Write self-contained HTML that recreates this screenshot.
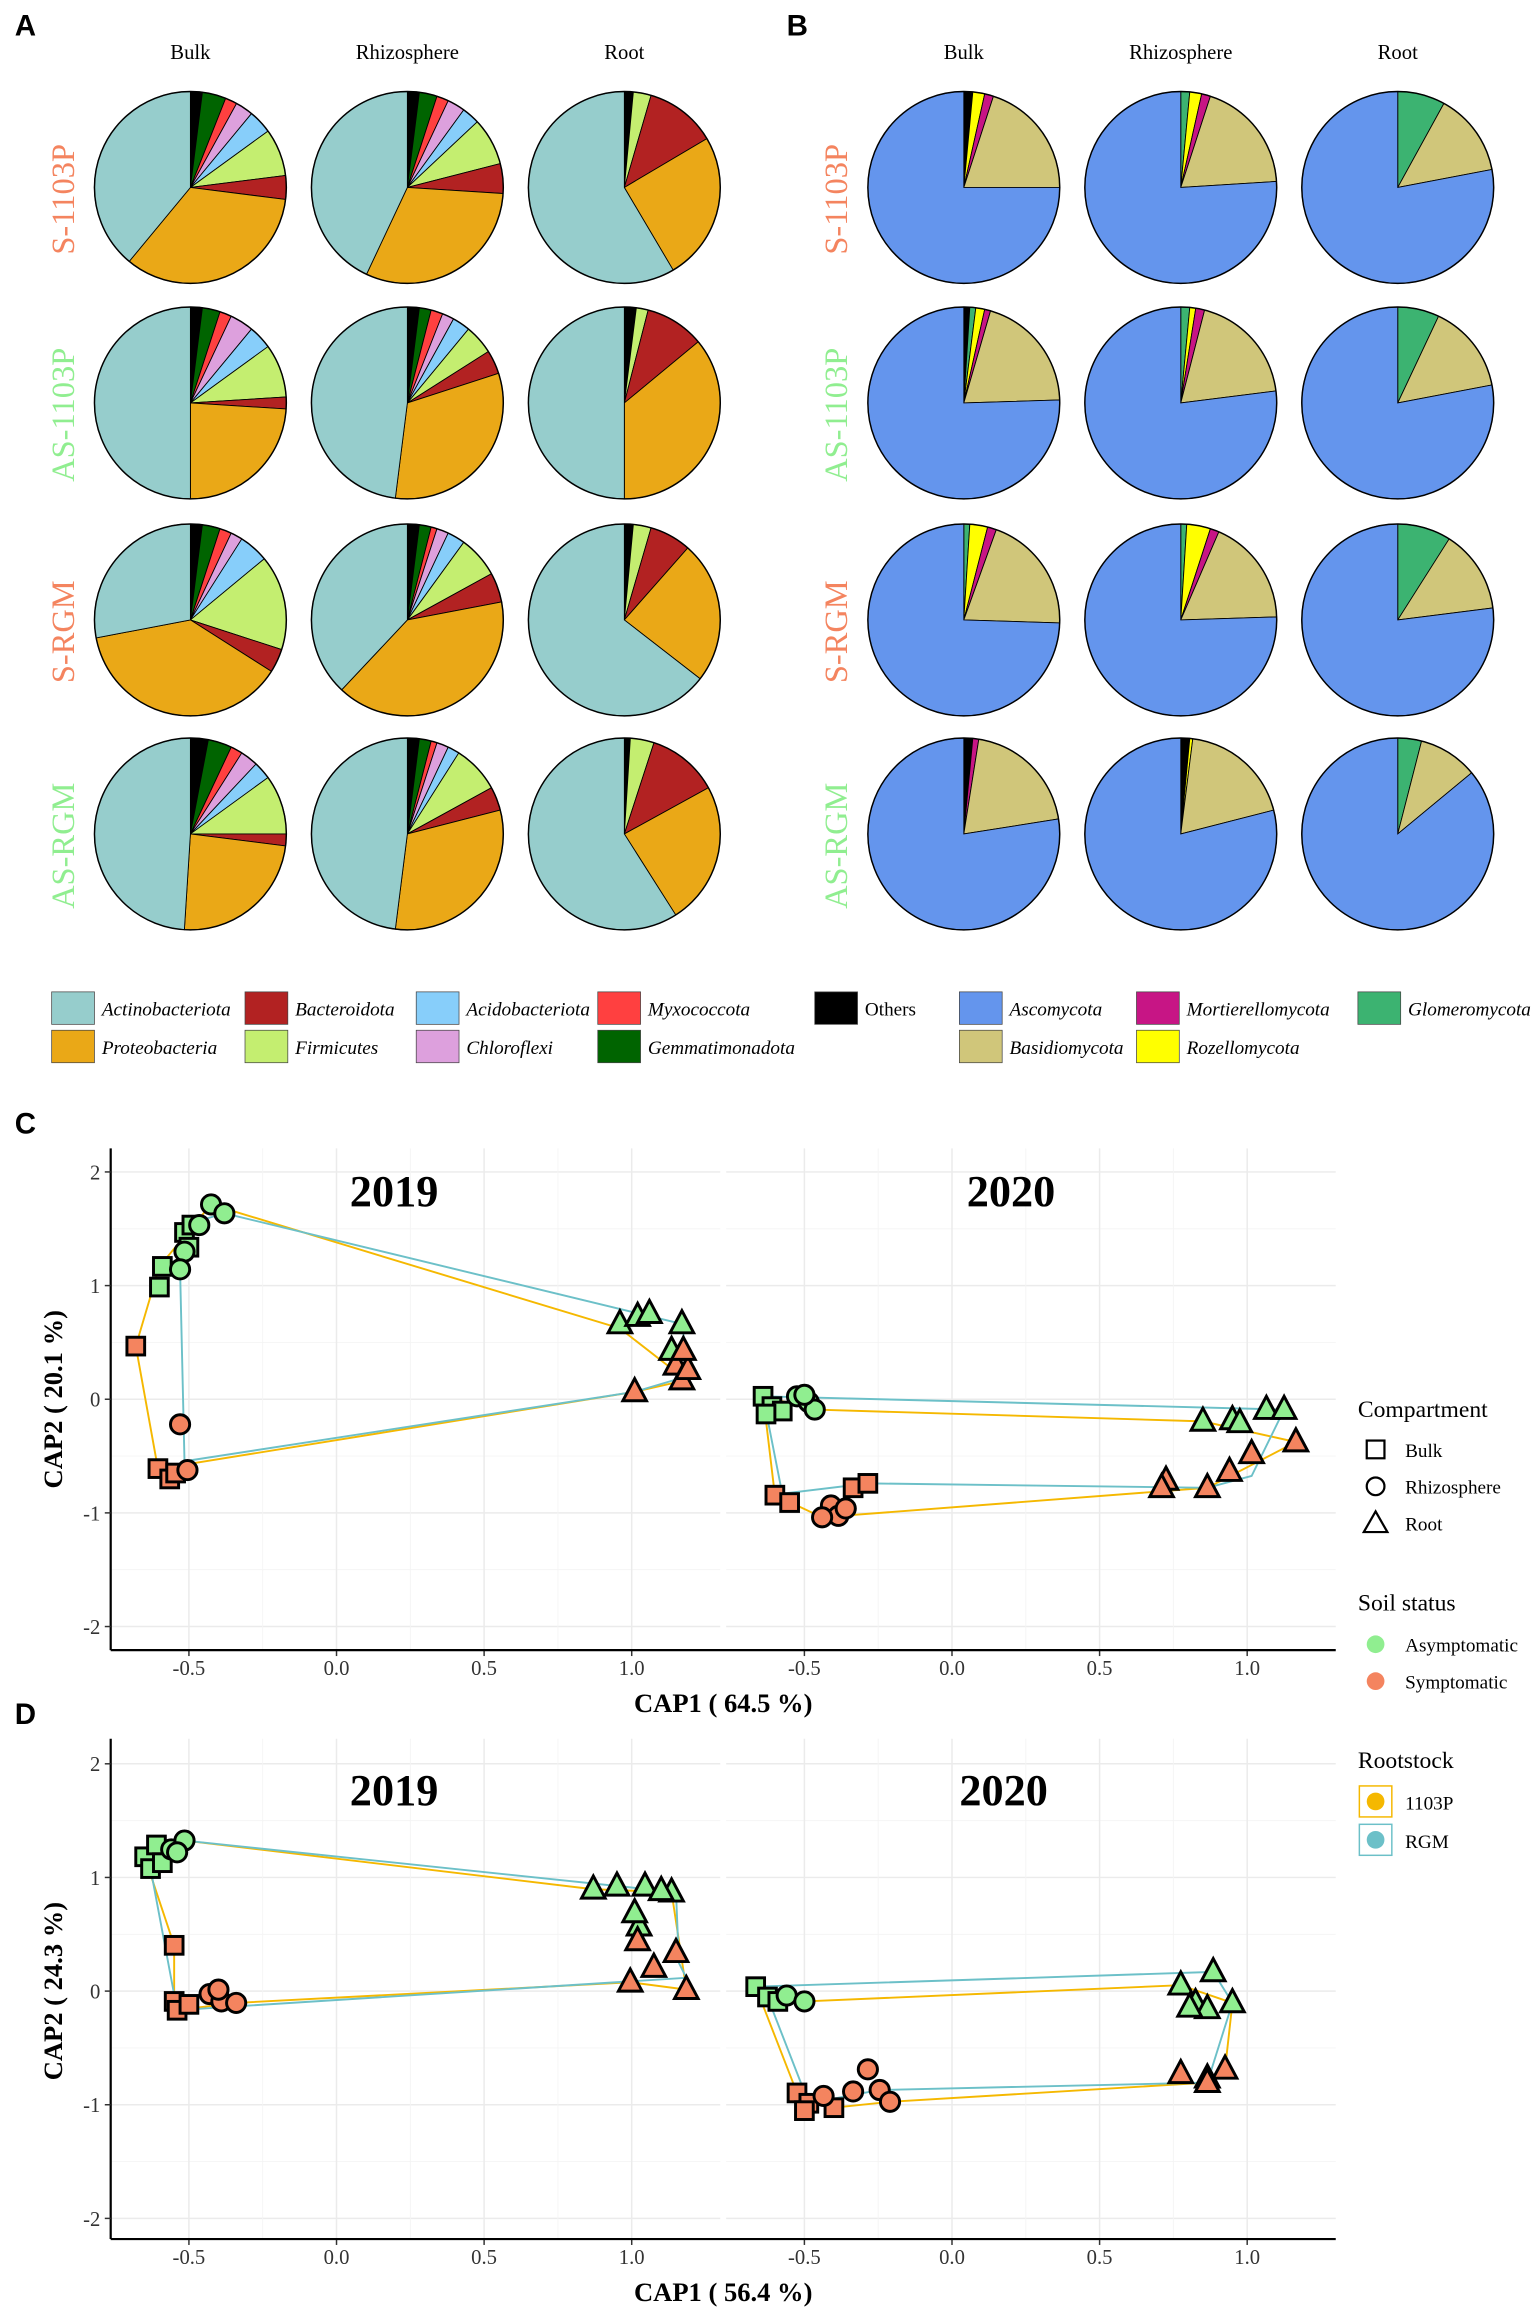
<!DOCTYPE html>
<html><head><meta charset="utf-8">
<style>
html,body{margin:0;padding:0;background:#fff;}
svg{display:block;}
text{font-family:"Liberation Serif",serif;}
</style></head>
<body>
<svg id="s" width="1535" height="2321" viewBox="0 0 1040 1572.5" xmlns="http://www.w3.org/2000/svg">
<rect width="1040" height="1573" fill="#fff"/>
<g id="g"></g>
</svg>
<script>
const NS="http://www.w3.org/2000/svg";
const G=document.getElementById('g');
function el(t,a,txt){const e=document.createElementNS(NS,t);for(const k in a)e.setAttribute(k,a[k]);if(txt!==undefined)e.textContent=txt;G.appendChild(e);return e;}
function tx(x,y,s,o){o=o||{};const a={x:x,y:y,'font-size':o.fs||14,fill:o.fill||'#000','text-anchor':o.anc||'middle'};if(o.b)a['font-weight']='bold';if(o.i)a['font-style']='italic';if(o.tr)a.transform=o.tr;if(o.ff)a.style='font-family:'+o.ff;return el('text',a,s);}
tx(10,24,'A',{fs:20,b:1,anc:'start',ff:'"Liberation Sans",sans-serif'});
tx(533,24,'B',{fs:20,b:1,anc:'start',ff:'"Liberation Sans",sans-serif'});
tx(10,768,'C',{fs:20,b:1,anc:'start',ff:'"Liberation Sans",sans-serif'});
tx(10,1168,'D',{fs:20,b:1,anc:'start',ff:'"Liberation Sans",sans-serif'});
const bc=['#000','#006400','#ff4040','#dda0dd','#87cefa','#c4ee70','#b22222','#eaa817','#96cdcc'];
const fc=['#000','#3cb371','#ffff00','#c71585','#d0c67a','#6495ed'];
const bac=[
[[.02,.04,.02,.03,.04,.08,.04,.34],[.02,.03,.02,.03,.03,.08,.05,.31],[.015,0,0,0,0,.03,.12,.25]],
[[.02,.03,.02,.04,.04,.09,.02,.24],[.02,.02,.02,.02,.03,.05,.04,.32],[.02,0,0,0,0,.02,.1,.36]],
[[.02,.03,.02,.02,.05,.16,.04,.38],[.02,.02,.01,.02,.03,.07,.05,.40],[.015,0,0,0,0,.03,.07,.24]],
[[.03,.04,.02,.03,.03,.10,.02,.24],[.02,.02,.01,.02,.02,.08,.04,.31],[.01,0,0,0,0,.04,.12,.24]]];
const fun=[
[[.015,0,.02,.015,.2],[0,.015,.02,.015,.19],[0,.08,0,0,.14]],
[[.01,.01,.015,.01,.2],[0,.015,.01,.015,.19],[0,.07,0,0,.15]],
[[0,.01,.03,.015,.2],[0,.01,.04,.015,.18],[0,.09,0,0,.14]],
[[.015,0,0,.01,.2],[.015,0,.005,0,.19],[0,.04,0,0,.1]]];
const rowsY=[127,273,420,565], bx=[129,276,423], fx=[653,800,947], R=65;
function pie(cx,cy,fr,cols){let a=0;const all=fr.slice();let s=all.reduce((p,c)=>p+c,0);all.push(1-s);
 all.forEach((f,i)=>{if(f<=0)return;const a0=a*2*Math.PI,a1=(a+f)*2*Math.PI;a+=f;
  const x0=cx+R*Math.sin(a0),y0=cy-R*Math.cos(a0),x1=cx+R*Math.sin(a1),y1=cy-R*Math.cos(a1);
  el('path',{d:`M${cx},${cy}L${x0},${y0}A${R},${R} 0 ${f>.5?1:0} 1 ${x1},${y1}Z`,fill:cols[i],stroke:'#000','stroke-width':0.6});});
 el('circle',{cx:cx,cy:cy,r:R,fill:'none',stroke:'#000','stroke-width':1});}
for(let r=0;r<4;r++)for(let c=0;c<3;c++){pie(bx[c],rowsY[r],bac[r][c],bc);pie(fx[c],rowsY[r],fun[r][c],fc);}
['Bulk','Rhizosphere','Root'].forEach((t,i)=>{tx(bx[i],40,t,{fs:14});tx(fx[i],40,t,{fs:14});});
const rl=['S-1103P','AS-1103P','S-RGM','AS-RGM'],rc=['#f4845f','#90ee90','#f4845f','#90ee90'];
rl.forEach((t,i)=>{tx(50,rowsY[i]+8,t,{fs:22,fill:rc[i],tr:`rotate(-90 50 ${rowsY[i]+8})`});tx(574,rowsY[i]+8,t,{fs:22,fill:rc[i],tr:`rotate(-90 574 ${rowsY[i]+8})`});});
const lg=[[35,672,'#96cdcc','Actinobacteriota'],[35,698,'#eaa817','Proteobacteria'],[166,672,'#b22222','Bacteroidota'],[166,698,'#c4ee70','Firmicutes'],[282,672,'#87cefa','Acidobacteriota'],[282,698,'#dda0dd','Chloroflexi'],[405,672,'#ff4040','Myxococcota'],[405,698,'#006400','Gemmatimonadota'],[552,672,'#000','Others',1],[650,672,'#6495ed','Ascomycota'],[650,698,'#d0c67a','Basidiomycota'],[770,672,'#c71585','Mortierellomycota'],[770,698,'#ffff00','Rozellomycota'],[920,672,'#3cb371','Glomeromycota']];
lg.forEach(l=>{el('rect',{x:l[0],y:l[1],width:29,height:22,fill:l[2],stroke:'#444','stroke-width':0.5});tx(l[0]+34,l[1]+16,l[3],{fs:13,i:!l[4],anc:'start'});});
function panel(y0,yb,zeroY,xlab,ylab){
 const unit=77;
 [[75,488,228],[492,905,645]].forEach(([x0,x1,zx])=>{
  for(let v=-2;v<=2;v++){el('line',{x1:x0,x2:x1,y1:zeroY-v*unit,y2:zeroY-v*unit,stroke:'#ebebeb','stroke-width':1});}
  for(let v=-2;v<=2;v++){const yy=zeroY-(v+0.5)*unit;if(yy>y0&&yy<yb)el('line',{x1:x0,x2:x1,y1:yy,y2:yy,stroke:'#f4f4f4','stroke-width':.6});}
  [-0.5,0,0.5,1].forEach(v=>{const xx=zx+v*200;el('line',{x1:xx,x2:xx,y1:y0,y2:yb,stroke:'#ebebeb','stroke-width':1});
    tx(xx,yb+17,v==0?'0.0':(v==1?'1.0':String(v)),{fs:14,fill:'#333'});el('line',{x1:xx,x2:xx,y1:yb,y2:yb+4,stroke:'#333'});});
  [-0.25,0.25,0.75].forEach(v=>{const xx=zx+v*200;el('line',{x1:xx,x2:xx,y1:y0,y2:yb,stroke:'#f4f4f4','stroke-width':.6});});
 });
 el('line',{x1:75,x2:905,y1:yb,y2:yb,stroke:'#000','stroke-width':1.5});
 el('line',{x1:75,x2:75,y1:y0,y2:yb,stroke:'#000','stroke-width':1.5});
 for(let v=-2;v<=2;v++){tx(68,zeroY-v*unit+5,String(v),{fs:14,anc:'end',fill:'#333'});el('line',{x1:71,x2:75,y1:zeroY-v*unit,y2:zeroY-v*unit,stroke:'#333'});}
 tx(490,yb+42,xlab,{fs:18,b:1});
 tx(42,zeroY,ylab,{fs:18,b:1,tr:`rotate(-90 42 ${zeroY})`});
}
panel(778,1118,948,'CAP1 ( 64.5 %)','CAP2 ( 20.1 %)');
panel(1178,1517,1349,'CAP1 ( 56.4 %)','CAP2 ( 24.3 %)');
tx(267,817,'2019',{fs:30,b:1});tx(685,817,'2020',{fs:30,b:1});
tx(267,1223,'2019',{fs:30,b:1});tx(680,1223,'2020',{fs:30,b:1});
function hull(pts,c){el('polygon',{points:pts.map(p=>p.join(',')).join(' '),fill:'none',stroke:c,'stroke-width':1.3});}
const G1='#90ee90',O1='#f4845f';
function pt(t,x,y,c){const a={fill:c,stroke:'#000','stroke-width':2};
 if(t=='s'){a.x=x-6;a.y=y-6;a.width=12;a.height=12;el('rect',a);}
 else if(t=='c'){a.cx=x;a.cy=y;a.r=6.5;el('circle',a);}
 else {a.points=`${x},${y-9} ${x-8},${y+6} ${x+8},${y+6}`;el('polygon',a);}}
hull([[92,912],[108,858],[143,816],[420,900],[465,935],[430,943],[127,992],[107,995]],'#f5b800');
hull([[120,860],[125,830],[152,822],[462,897],[467,932],[430,943],[125,990],[122,860]],'#6cc0c8');
[['s',108,872],['s',110,858],['s',125,835],['s',130,830],['s',128,845],['c',143,816],['c',152,822],['c',135,830],['c',125,848],['c',122,860]].forEach(p=>pt(p[0],p[1],p[2],G1));
[['s',92,912],['s',107,995],['s',115,1002],['s',119,998],['c',122,965],['c',127,996]].forEach(p=>pt(p[0],p[1],p[2],O1));
[['t',420,897],['t',432,892],['t',440,890],['t',462,897],['t',455,915]].forEach(p=>pt(p[0],p[1],p[2],G1));
[['t',430,943],['t',458,925],['t',462,935],['t',466,928],['t',463,915]].forEach(p=>pt(p[0],p[1],p[2],O1));
hull([[517,946],[552,955],[815,963],[878,977],[818,1008],[557,1028],[525,1013]],'#f5b800');
hull([[517,946],[870,955],[848,1000],[818,1008],[588,1005],[530,1012]],'#6cc0c8');
[['s',517,946],['s',523,953],['s',530,956],['s',519,958],['c',540,946],['c',548,950],['c',552,955],['c',545,945]].forEach(p=>pt(p[0],p[1],p[2],G1));
[['s',525,1013],['s',535,1018],['s',578,1008],['s',588,1005],['c',563,1020],['c',568,1027],['c',557,1028],['c',573,1022]].forEach(p=>pt(p[0],p[1],p[2],O1));
[['t',815,963],['t',835,962],['t',840,964],['t',858,955],['t',870,955]].forEach(p=>pt(p[0],p[1],p[2],G1));
[['t',878,977],['t',848,985],['t',833,997],['t',790,1003],['t',818,1008],['t',787,1008]].forEach(p=>pt(p[0],p[1],p[2],O1));
hull([[98,1258],[125,1247],[402,1280],[455,1282],[465,1348],[427,1343],[160,1357],[118,1362],[118,1318]],'#f5b800');
hull([[102,1266],[110,1250],[125,1247],[458,1282],[460,1330],[465,1340],[150,1360],[120,1362]],'#6cc0c8');
[['s',98,1258],['s',102,1266],['s',106,1250],['s',110,1262],['c',116,1253],['c',125,1247],['c',120,1255]].forEach(p=>pt(p[0],p[1],p[2],G1));
[['s',118,1318],['s',118,1356],['s',120,1362],['s',128,1358],['c',142,1351],['c',150,1356],['c',160,1357],['c',148,1348]].forEach(p=>pt(p[0],p[1],p[2],O1));
[['t',402,1280],['t',418,1278],['t',437,1278],['t',455,1282],['t',448,1281],['t',433,1305],['t',430,1296]].forEach(p=>pt(p[0],p[1],p[2],G1));
[['t',432,1315],['t',427,1343],['t',443,1333],['t',458,1323],['t',465,1348]].forEach(p=>pt(p[0],p[1],p[2],O1));
hull([[512,1346],[545,1356],[800,1345],[835,1357],[830,1402],[818,1411],[603,1424],[565,1428],[540,1418]],'#f5b800');
hull([[512,1346],[822,1336],[835,1357],[818,1411],[596,1416],[548,1425],[520,1353]],'#6cc0c8');
[['s',512,1346],['s',520,1353],['s',527,1356],['c',533,1352],['c',545,1356]].forEach(p=>pt(p[0],p[1],p[2],G1));
[['t',800,1345],['t',822,1336],['t',810,1357],['t',818,1361],['t',835,1357],['t',806,1360]].forEach(p=>pt(p[0],p[1],p[2],G1));
[['t',800,1405],['t',818,1408],['t',830,1402],['t',818,1411]].forEach(p=>pt(p[0],p[1],p[2],O1));
[['s',540,1418],['s',548,1425],['s',565,1428],['s',545,1430],['c',588,1402],['c',578,1417],['c',596,1416],['c',603,1424],['c',558,1420]].forEach(p=>pt(p[0],p[1],p[2],O1));
tx(920,960,'Compartment',{fs:16,anc:'start'});
function lpt(t,x,y,c,sw){const a={fill:c,stroke:'#000','stroke-width':sw||1.5};
 if(t=='s'){a.x=x-6;a.y=y-6;a.width=12;a.height=12;el('rect',a);}else if(t=='c'){a.cx=x;a.cy=y;a.r=6;el('circle',a);}else{a.points=`${x},${y-8} ${x-8},${y+6} ${x+8},${y+6}`;el('polygon',a);}}
lpt('s',932,982,'none');tx(952,987,'Bulk',{fs:13,anc:'start'});
lpt('c',932,1007,'none');tx(952,1012,'Rhizosphere',{fs:13,anc:'start'});
lpt('t',932,1032,'none');tx(952,1037,'Root',{fs:13,anc:'start'});
tx(920,1091,'Soil status',{fs:16,anc:'start'});
el('circle',{cx:932,cy:1114,r:6,fill:G1});tx(952,1119,'Asymptomatic',{fs:13,anc:'start'});
el('circle',{cx:932,cy:1139,r:6,fill:O1});tx(952,1144,'Symptomatic',{fs:13,anc:'start'});
tx(920,1198,'Rootstock',{fs:16,anc:'start'});
el('rect',{x:921,y:1210,width:22,height:21,fill:'#fff',stroke:'#f5b800'});el('circle',{cx:932,cy:1220.5,r:6,fill:'#f5b800'});tx(952,1226,'1103P',{fs:13,anc:'start'});
el('rect',{x:921,y:1236,width:22,height:21,fill:'#fff',stroke:'#6cc0c8'});el('circle',{cx:932,cy:1246.5,r:6,fill:'#6cc0c8'});tx(952,1252,'RGM',{fs:13,anc:'start'});
</script>
</body></html>
